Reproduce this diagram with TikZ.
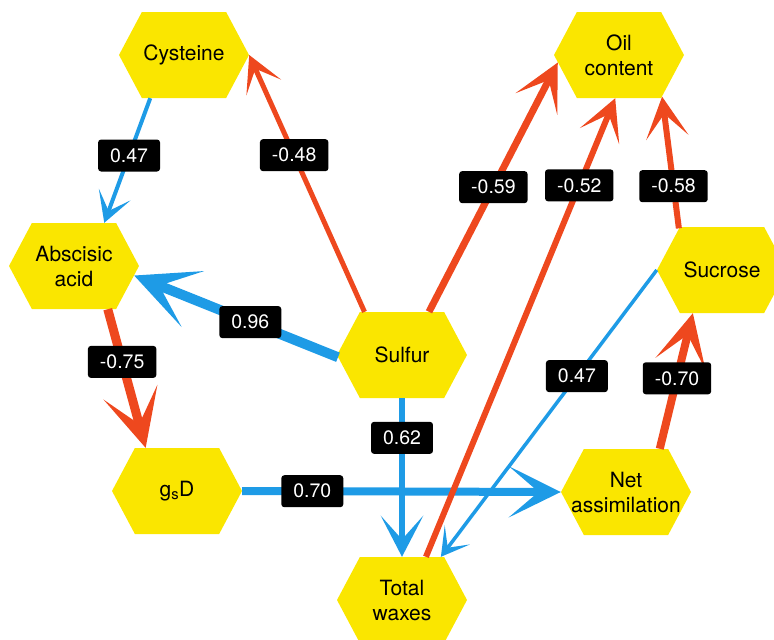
\documentclass[tikz,border=0pt]{standalone}
\usepackage{fontspec}
\setmainfont{TeX Gyre Heros}
\usetikzlibrary{shapes.symbols}
\usetikzlibrary{arrows.meta}
\definecolor{hexyellow}{RGB}{250,230,0}
\definecolor{negred}{RGB}{238,72,30}
\definecolor{posblue}{RGB}{30,155,230}
\tikzset{
  hextext/.style={align=center, font=\fontsize{21}{25}\selectfont},
  hexa/.style={
    signal, signal to=west and east, signal pointer angle=124,
    fill=hexyellow, minimum width=130pt, minimum height=86pt,
    inner sep=0pt, label={[hextext]center:#1}
  },
  coef/.style={
    fill=black, text=white, rounded corners=3pt,
    inner xsep=12pt, inner ysep=0pt, minimum height=32pt,
    font=\fontsize{19.5}{19.5}\selectfont
  },
  link/.style={
    line width=#1,
    -{Stealth[length=8pt 5.5, width=16pt 4.4, inset=5pt 3.1]}
  },
  poslink/.style={link=#1, draw=posblue},
  neglink/.style={link=#1, draw=negred}
}

\begin{document}
\begin{tikzpicture}[x=1pt, y=-1pt]
    \useasboundingbox (0,0) rectangle (774,640);
    \clip (0,0) rectangle (774,640);

    \node [hexa=Cysteine]               (cys) at (184,  55) {};
    \node [hexa=Abscisic\\acid]         (aba) at ( 74, 266) {};
    \node [hexa=Oil\\content]           (oil) at (619,  55) {};
    \node [hexa=Sucrose]                (suc) at (722, 270) {};
    \node [hexa=Sulfur]                 (sul) at (402, 355) {};
    \node [hexa=g\textsubscript{s}D]    (gsd) at (177, 491) {};
    \node [hexa=Net\\assimilation]      (net) at (626, 492) {};
    \node [hexa=Total\\waxes]           (wax) at (402, 600) {};

    \draw [poslink=4pt]   (cys.232) -- node [coef, pos=0.46] (c1)  {0.47}  (aba.55);
    \draw [neglink=5pt]   (sul.131) -- node [coef, pos=0.61] (c2)  {-0.48} (cys.east);
    \draw [poslink=10pt]  (sul.182) -- node [coef, pos=0.43] (c3)  {0.96}  (aba.-9);
    \draw [neglink=9pt]   (aba.-52) -- node [coef, pos=0.38] (c4)  {-0.75} (gsd.126);
    \draw [poslink=8pt]   (gsd.east) -- node [coef, pos=0.22] (c5) {0.70}  (net.west);
    \draw [poslink=6pt]   (sul.south) -- node [coef, pos=0.25] (c6) {0.62} (wax.north);
    \draw [neglink=7pt]   (sul.58)  -- node [coef, pos=0.50] (c7)  {-0.59} (oil.187);
    \draw [neglink=6pt]   (wax.61)  -- node [coef, pos=0.81] (c8)  {-0.52} (oil.265);
    \draw [neglink=6pt]   (suc.136) -- node [coef, pos=0.32] (c9)  {-0.58} (oil.-44);
    \draw [poslink=3.5pt] (suc.west) -- node [coef, pos=0.37] (c10) {0.47} (wax.48);
    \draw [neglink=8pt]   (net.52)  -- node [coef, pos=0.52] (c11) {-0.70} (suc.236);
\end{tikzpicture}
\end{document}
